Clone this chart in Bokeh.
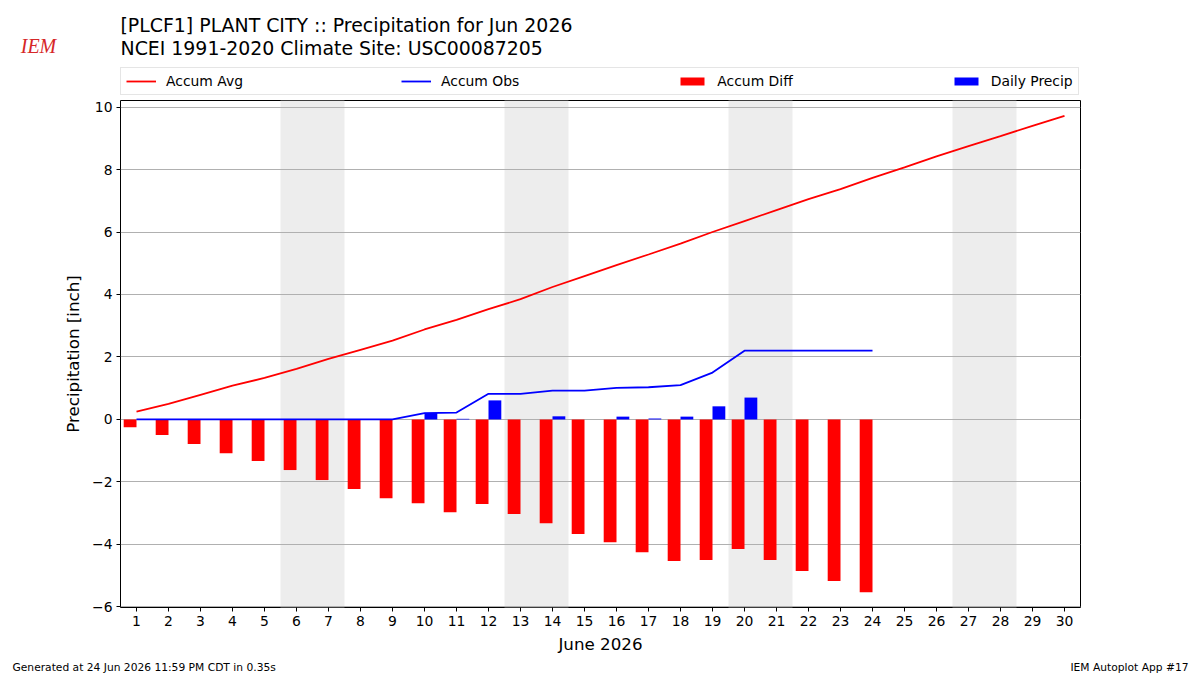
from bokeh.plotting import figure
from bokeh.layouts import column
from bokeh.models import (Range1d, Legend, LegendItem, Label, FixedTicker,
                          CustomJSTickFormatter, ColumnDataSource)
from bokeh.transform import dodge
from bokeh.embed import file_html
from bokeh.resources import INLINE

# ---- data (inches) ----
days = list(range(1, 31))
accum_avg = [0.25, 0.50, 0.79, 1.08, 1.33, 1.62, 1.94, 2.23, 2.52, 2.88,
             3.19, 3.53, 3.85, 4.24, 4.59, 4.94, 5.28, 5.63, 6.00, 6.35,
             6.70, 7.05, 7.37, 7.73, 8.07, 8.42, 8.75, 9.07, 9.40, 9.72]
obs_days = list(range(1, 25))
accum_obs = [0, 0, 0, 0, 0, 0, 0, 0, 0, 0.20,
             0.22, 0.82, 0.82, 0.92, 0.92, 1.01, 1.03, 1.10, 1.50, 2.20,
             2.20, 2.20, 2.20, 2.20]
accum_diff = [-0.25, -0.50, -0.79, -1.08, -1.33, -1.62, -1.94, -2.23, -2.52, -2.68,
              -2.97, -2.71, -3.03, -3.32, -3.67, -3.93, -4.25, -4.53, -4.50, -4.15,
              -4.50, -4.85, -5.17, -5.53]
daily_precip = [0, 0, 0, 0, 0, 0, 0, 0, 0, 0.21,
                0.02, 0.61, 0, 0.10, 0, 0.09, 0.03, 0.09, 0.42, 0.70,
                0, 0, 0, 0]
weekend_centers = [6.5, 13.5, 20.5, 27.5]
x_ticks = days
y_ticks = [-6, -4, -2, 0, 2, 4, 6, 8, 10]

title_line1 = "[PLCF1] PLANT CITY :: Precipitation for Jun 2026"
title_line2 = "NCEI 1991-2020 Climate Site: USC00087205"
footer_left = "Generated at 24 Jun 2026 11:59 PM CDT in 0.35s"
footer_right = "IEM Autoplot App #17"

FONT = "DejaVu Sans"
RED = "#ff0000"
BLUE = "#0000ff"
W = 1200
HEADER_H = 97
FOOTER_H = 18
MAIN_H = 675 - HEADER_H - FOOTER_H
MAIN_TOP = 100 - HEADER_H
FRAME_H = 507
LW = 1.8


def blank_fig(h):
    f = figure(width=W, height=h, output_backend="svg", toolbar_location=None,
               x_range=Range1d(0, W), y_range=Range1d(0, h),
               x_axis_location=None, y_axis_location=None, min_border=0)
    f.outline_line_color = None
    f.xgrid.visible = False
    f.ygrid.visible = False
    f.background_fill_color = "white"
    f.border_fill_color = "white"
    f.frame_align = False
    return f


def add_label(f, text, x, y, size, align="left", color="black", style="normal", font=FONT):
    f.add_layout(Label(x=x, y=y, text=text, text_font=font, text_font_size=size,
                       text_color=color, text_align=align, text_baseline="middle",
                       text_font_style=style))


# ---------------- header (titles, logo text, legend) ----------------
header = blank_fig(HEADER_H)
add_label(header, title_line1, 120, HEADER_H - 24, "18.9px")
add_label(header, title_line2, 120, HEADER_H - 47, "18.9px")
add_label(header, "IEM", 38, HEADER_H - 45, "20px", align="center",
          color="#d62728", style="italic", font="Liberation Serif")

# legend samples: same series drawn on an out-of-view range of the header,
# so only their styles appear (in the legend)
header.extra_y_ranges = {"off": Range1d(1000, 2000)}
l_avg = header.line(days, accum_avg, line_color=RED, line_width=LW, y_range_name="off")
l_obs = header.line(obs_days, accum_obs, line_color=BLUE, line_width=LW, y_range_name="off")
l_diff = header.vbar(x=obs_days, top=accum_diff, width=0.4, fill_color=RED,
                     line_color=None, y_range_name="off")
l_daily = header.vbar(x=obs_days, top=daily_precip, width=0.4, fill_color=BLUE,
                      line_color=None, y_range_name="off")
legend = Legend(items=[
    LegendItem(label="Accum Avg", renderers=[l_avg]),
    LegendItem(label="Accum Obs", renderers=[l_obs]),
    LegendItem(label="Accum Diff", renderers=[l_diff]),
    LegendItem(label="Daily Precip", renderers=[l_daily]),
], orientation="horizontal", location=(120, 2))
legend.label_text_font = FONT
legend.label_text_font_size = "13.9px"
legend.label_text_color = "black"
legend.glyph_width = 30
legend.glyph_height = 10
legend.label_height = 16
legend.label_standoff = 10
legend.spacing = 158
legend.padding = 5
legend.margin = 0
legend.border_line_color = "#cccccc"
legend.border_line_width = 1
legend.background_fill_color = "white"
legend.background_fill_alpha = 1
header.add_layout(legend, "center")

# ---------------- main plot ----------------
p = figure(width=W, height=MAIN_H, output_backend="svg", toolbar_location=None,
           x_range=Range1d(0.5, 30.5), y_range=Range1d(-6.02, 10.21),
           min_border_left=120, min_border_right=120, min_border_top=MAIN_TOP,
           min_border_bottom=MAIN_H - MAIN_TOP - FRAME_H)
p.frame_align = False
p.background_fill_color = "white"
p.border_fill_color = "white"
p.outline_line_color = "black"
p.outline_line_width = 1
p.outline_line_alpha = 1

shade = p.vbar(x=weekend_centers, width=2, top=100, bottom=-100,
               fill_color="#ededed", line_color=None)
shade.level = "image"

p.xgrid.visible = False
p.ygrid.grid_line_color = "#b0b0b0"
p.ygrid.grid_line_width = 1
p.ygrid.ticker = FixedTicker(ticks=y_ticks)

src = ColumnDataSource(dict(day=obs_days, diff=accum_diff, daily=daily_precip))
p.vbar(x=dodge("day", -0.2, range=p.x_range), width=0.4, top="diff",
       bottom=0, source=src, fill_color=RED, line_color=None)
p.vbar(x=dodge("day", 0.2, range=p.x_range), width=0.4, top="daily",
       bottom=0, source=src, fill_color=BLUE, line_color=None)
p.line(days, accum_avg, line_color=RED, line_width=LW)
p.line(obs_days, accum_obs, line_color=BLUE, line_width=LW)

for ax in (p.xaxis[0], p.yaxis[0]):
    ax.major_label_text_font = FONT
    ax.major_label_text_font_size = "13.9px"
    ax.major_label_text_color = "black"
    ax.axis_label_text_font = FONT
    ax.axis_label_text_font_size = "16.7px"
    ax.axis_label_text_font_style = "normal"
    ax.axis_label_text_color = "black"
    ax.axis_line_color = None
    ax.major_tick_line_color = "black"
    ax.major_tick_out = 4
    ax.major_tick_in = 0
    ax.minor_tick_line_color = None

p.xaxis.ticker = FixedTicker(ticks=x_ticks)
p.yaxis.ticker = FixedTicker(ticks=y_ticks)
p.yaxis.formatter = CustomJSTickFormatter(code="return String(tick).replace('-', '\u2212');")
p.xaxis.axis_label = "June 2026"
p.yaxis.axis_label = "Precipitation [inch]"
p.xaxis.major_label_standoff = 4
p.yaxis.major_label_standoff = 4
p.xaxis.axis_label_standoff = 5
p.yaxis.axis_label_standoff = 6

# ---------------- footer ----------------
footer = blank_fig(FOOTER_H)
add_label(footer, footer_left, 12, FOOTER_H - 10, "10.7px")
add_label(footer, footer_right, 1188, FOOTER_H - 10, "10.7px", align="right")

layout = column(header, p, footer, spacing=0)
open("out.html", "w").write(file_html(layout, INLINE))
